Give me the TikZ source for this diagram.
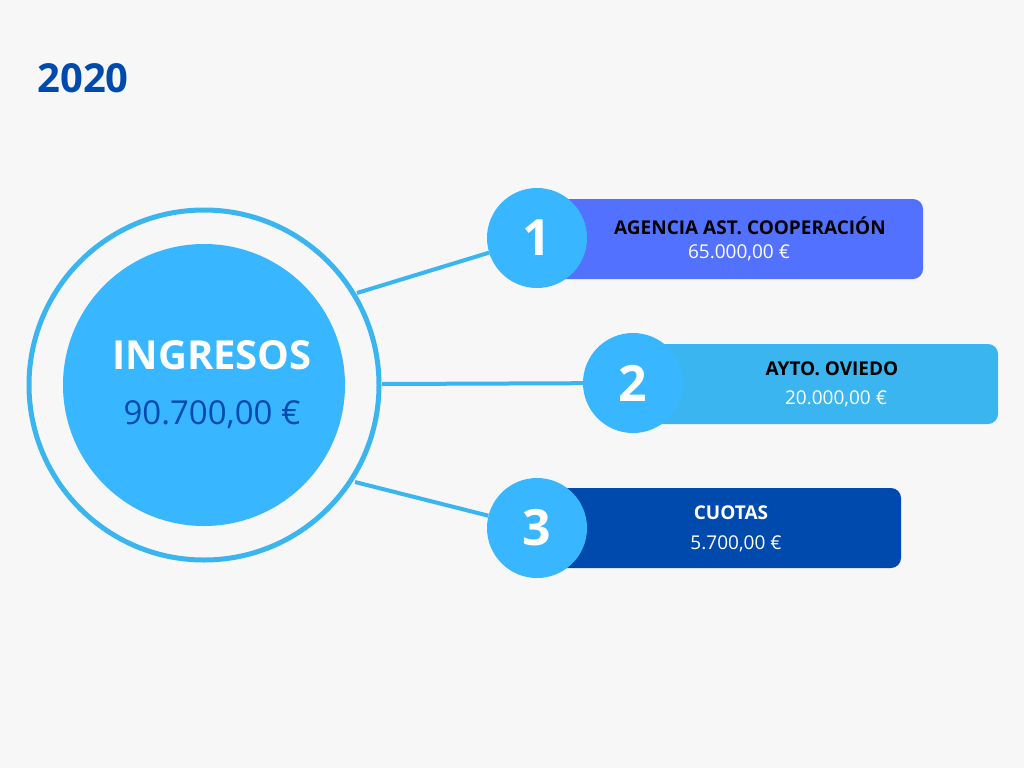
\documentclass[tikz,border=0pt]{standalone}
\usepackage{fontspec}
\setmainfont{Open Sans}
\definecolor{bg}{HTML}{F7F7F7}
\definecolor{sky}{HTML}{38B6FF}
\definecolor{ring}{HTML}{3BB5F0}
\definecolor{violet}{HTML}{5271FF}
\definecolor{navy}{HTML}{004AAD}
\begin{document}
\begin{tikzpicture}[x=1pt,y=-1pt,
  numc/.style={circle,fill=sky,minimum size=100pt,inner sep=0pt,text=white,font=\fontsize{50}{50}\selectfont\bfseries},
  lab/.style={font=\fontsize{19}{20}\selectfont\bfseries},
  val/.style={font=\fontsize{19}{20}\selectfont,text=white},
  conn/.style={ring,line width=4pt}]
\fill[bg] (0,0) rectangle (1024,768);
\useasboundingbox (0,0) rectangle (1024,768);
\node[text=navy,font=\fontsize{40}{40}\selectfont\bfseries] (yr) at (83,78) {2020};
\node[circle,draw=ring,line width=5pt,minimum size=350pt,inner sep=0pt] (outer) at (204,385) {};
\node[circle,fill=sky,minimum size=282pt,inner sep=0pt] (inner) at (204,385) {};
\node[text=white,font=\fontsize{40}{40}\selectfont\bfseries] (t1) at (212,355) {INGRESOS};
\node[text=navy,font=\fontsize{33}{33}\selectfont] (t2) at (212,415) {90.700,00 €};
% boxes
\fill[violet,rounded corners=10pt] (540,199) rectangle (923,279);
\fill[ring,rounded corners=10pt] (640,344) rectangle (998,424);
\fill[navy,rounded corners=10pt] (540,488) rectangle (901,568);
\coordinate (a1) at (357,293); \coordinate (a2) at (382,384); \coordinate (a3) at (355,482);
\node[numc] (n1) at (537,238) {1};
\node[numc] (n2) at (633,383) {2};
\node[numc] (n3) at (537,528) {3};
\draw[conn] (a1) -- (n1);
\draw[conn] (a2) -- (n2);
\draw[conn] (a3) -- (n3);
\node[lab] (l1) at (750,226) {AGENCIA AST. COOPERACIÓN};
\node[val] (v1) at (739,253) {65.000,00 €};
\node[lab] (l2) at (832,369) {AYTO. OVIEDO};
\node[val] (v2) at (836,399) {20.000,00 €};
\node[lab,text=white] (l3) at (731,513) {CUOTAS};
\node[val] (v3) at (736,544) {5.700,00 €};
\end{tikzpicture}
\end{document}
